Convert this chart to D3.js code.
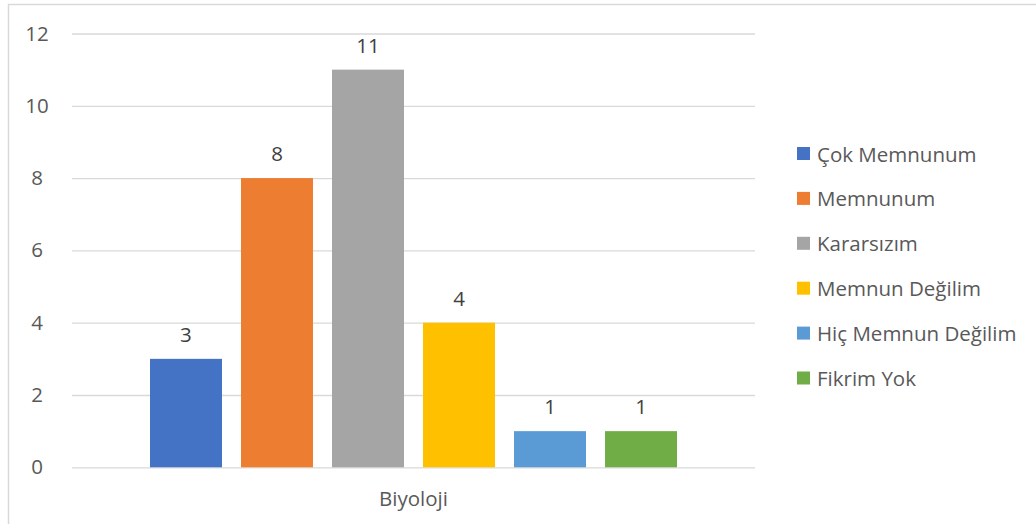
<!DOCTYPE html>
<html><head><meta charset="utf-8">
<script src="https://cdn.jsdelivr.net/npm/d3@7"></script>
<style>body{margin:0;background:#fff}svg{display:block}</style>
</head><body><svg id="c" width="1036" height="524"></svg>
<script>
const categories = ["Biyoloji"];
const seriesNames = ["Çok Memnunum","Memnunum","Kararsızım","Memnun Değilim","Hiç Memnun Değilim","Fikrim Yok"];
const seriesValues = [3, 8, 11, 4, 1, 1];
const seriesColors = ["#4472C4","#ED7D31","#A5A5A5","#FFC000","#5B9BD5","#70AD47"];
const yTicks = [0, 2, 4, 6, 8, 10, 12];

(function(){
const svg = d3.select("#c");
const font = "'Open Sans', 'Segoe UI', sans-serif";
const fs = "20.5px";
svg.append("rect").attr("x",8.5).attr("y",4.5).attr("width",1100).attr("height",600)
  .attr("fill","none").attr("stroke","#D9D9D9").attr("stroke-width",1.5);

const pLeft = 72, pRight = 755, pTop = 33.5, pBottom = 467.3;
const y = d3.scaleLinear().domain([0,12]).range([pBottom, pTop]);
const x0 = d3.scaleBand().domain(categories).range([pLeft,pRight]).paddingInner(0).paddingOuter(0.148);
const x1 = d3.scaleBand().domain(seriesNames).range([0, x0.bandwidth()]).paddingInner(0.209).paddingOuter(0);

const yAxis = d3.axisLeft(y).tickValues(yTicks).tickSize(-(pRight-pLeft)).tickPadding(28);
const ga = svg.append("g").attr("transform",`translate(${pLeft},0)`).call(yAxis);
ga.select(".domain").remove();
ga.selectAll(".tick line").attr("stroke","#D9D9D9").attr("stroke-width",1.3);
ga.selectAll(".tick text").attr("fill","#595959").style("font-family",font).style("font-size",fs).attr("text-anchor","middle").attr("x",-35);

const g = svg.append("g");
categories.forEach(cat => {
  seriesNames.forEach((s,i) => {
    const bx = x0(cat) + x1(s);
    g.append("rect").attr("x",bx).attr("y",y(seriesValues[i]))
      .attr("width",x1.bandwidth()).attr("height",y(0)-y(seriesValues[i]))
      .attr("fill",seriesColors[i]);
    g.append("text").attr("x",bx + x1.bandwidth()/2).attr("y",y(seriesValues[i]) - 17)
      .attr("text-anchor","middle").attr("fill","#404040")
      .style("font-family",font).style("font-size",fs).text(seriesValues[i]);
  });
  svg.append("text").attr("x",x0(cat)+x0.bandwidth()/2).attr("y",506)
    .attr("text-anchor","middle").attr("fill","#595959")
    .style("font-family",font).style("font-size",fs).text(cat);
});

const lg = svg.append("g").attr("transform","translate(797,0)");
seriesNames.forEach((s,i) => {
  const cy = 154 + i*44.9;
  lg.append("rect").attr("x",0).attr("y",cy-7).attr("width",13).attr("height",13).attr("fill",seriesColors[i]);
  lg.append("text").attr("x",20).attr("y",cy+7.5).attr("fill","#595959")
    .style("font-family",font).style("font-size",fs).text(s);
});
})();
</script></body></html>
